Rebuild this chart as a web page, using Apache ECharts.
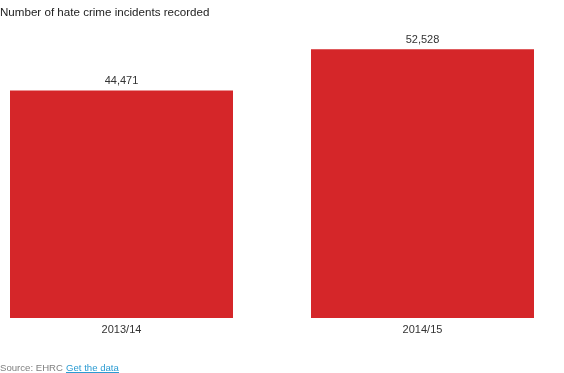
<!DOCTYPE html>
<html><head><meta charset="utf-8">
<script src="https://cdn.jsdelivr.net/npm/echarts@6/dist/echarts.min.js"></script>
<style>html,body{margin:0;padding:0;background:#fff}#c{width:564px;height:373px}</style>
</head><body><div id="c"></div>
<script>
const categories = ['2013/14', '2014/15'];
const incidents = [44471, 52528];
const titleText = 'Number of hate crime incidents recorded';

const chart = echarts.init(document.getElementById('c'));
const font = '"Liberation Sans", Arial, Helvetica, sans-serif';
chart.setOption({
  animation: false,
  title: { text: titleText, left: 0, top: 7, padding: 0, textStyle: { fontSize: 11.6, fontWeight: 'normal', color: '#222', fontFamily: font } },
  grid: { left: 121.5, right: 141.5, top: 11, bottom: 55 },
  xAxis: {
    type: 'category', data: categories, boundaryGap: false,
    axisLine: { show: false }, axisTick: { show: false },
    axisLabel: { fontSize: 11, color: '#333', fontFamily: font, margin: 6 }
  },
  yAxis: { type: 'value', min: 0, max: 60000, show: false, splitLine: { show: false } },
  series: [{
    type: 'bar', data: incidents, barWidth: 223,
    itemStyle: { color: '#d52629' },
    label: { show: true, position: 'top', distance: 4, fontSize: 11, color: '#333', fontFamily: font,
      formatter: p => p.value.toLocaleString('en-US') }
  }],
  graphic: [
    { type: 'text', left: 0, top: 363, style: { text: 'Source: EHRC', fontSize: 9.6, fill: '#808080', fontFamily: font } },
    { type: 'text', left: 66, top: 363, style: { text: 'Get the data', fontSize: 9.6, fill: '#2b9bd2', fontFamily: font } },
    { type: 'line', shape: { x1: 66, y1: 372.5, x2: 119, y2: 372.5 }, style: { stroke: '#2b9bd2', lineWidth: 1 } }
  ]
});
</script></body></html>
